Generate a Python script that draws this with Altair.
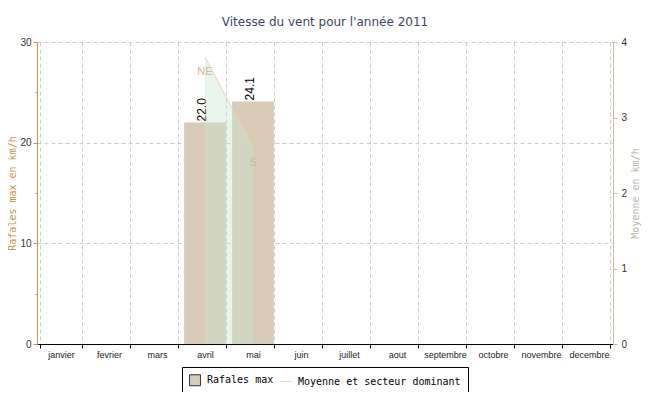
import altair as alt
import pandas as pd

months = ["janvier", "fevrier", "mars", "avril", "mai", "juin", "juillet",
          "aout", "septembre", "octobre", "novembre", "decembre"]
rafales_max = [None, None, None, 22.0, 24.1, None, None, None, None, None, None, None]
moyenne = [None, None, None, 3.8, 2.6, None, None, None, None, None, None, None]
secteur = [None, None, None, "NE", "S", None, None, None, None, None, None, None]
series = ["Rafales max", "Moyenne et secteur dominant"]
left_ticks = [0, 2.5, 5, 7.5, 10, 12.5, 15, 17.5, 20, 22.5, 25, 27.5, 30]
right_ticks = [0, 0.25, 0.5, 0.75, 1, 1.25, 1.5, 1.75, 2, 2.25, 2.5, 2.75, 3, 3.25, 3.5, 3.75, 4]

df = pd.DataFrame({"mois": months, "rafales": rafales_max, "moyenne": moyenne, "secteur": secteur})
df["label"] = [f"{v:.1f}" if v is not None else None for v in rafales_max]

TAN = "#c8964b"
RGREY = "#c8bfa5"
MONO = "DejaVu Sans Mono"
SANS = "Liberation Sans"

x_enc = alt.X(
    "mois:N", sort=months,
    scale=alt.Scale(domain=months, paddingInner=0.13, paddingOuter=0.065),
    axis=alt.Axis(title=None, tickBand="extent", labelAngle=0, grid=True,
                  gridDash=[4, 3], gridColor="#cccccc", domainColor="black",
                  tickColor="black", tickSize=4, labelPadding=2,
                  labelFont=SANS, labelFontSize=9, labelColor="#222222"),
)

base = alt.Chart(df)

bars = base.transform_filter("datum.rafales != null").mark_bar(color="#d8cbb8").encode(
    x=x_enc,
    y=alt.Y("rafales:Q", scale=alt.Scale(domain=[0, 30], nice=False),
            axis=alt.Axis(title="Rafales max en km/h", titleColor=TAN, titleFont=MONO,
                          titleFontSize=10, titleFontWeight="normal", titlePadding=2,
                          domainColor=TAN, tickColor=TAN, values=left_ticks, format="d",
                          labelExpr="datum.value % 10 == 0 ? datum.label : ''",
                          tickSize={"condition": {"test": "datum.value % 10 == 0", "value": 4}, "value": 2},
                          gridOpacity={"condition": {"test": "datum.value % 10 == 0", "value": 1}, "value": 0},
                          gridDash=[4, 3], gridColor="#cccccc",
                          labelFont=SANS, labelFontSize=10, labelColor="#333333", labelPadding=2)),
)

valtext = base.transform_filter("datum.rafales != null").mark_text(
    angle=270, align="left", baseline="middle", dx=1, dy=-3,
    font=SANS, fontSize=12, color="black").encode(
    x=x_enc,
    y=alt.Y("rafales:Q", scale=alt.Scale(domain=[0, 30], nice=False)),
    text="label:N",
)

area = base.transform_filter("datum.moyenne != null").mark_area(
    color="#c9e3cf", opacity=0.4,
    line={"color": "#ead6b3", "strokeWidth": 1}).encode(
    x=x_enc,
    y=alt.Y("moyenne:Q", scale=alt.Scale(domain=[0, 4], nice=False),
            axis=alt.Axis(title="Moyenne en km/h", titleColor="#bdb6a6", titleFont=MONO,
                          titleFontSize=10, titleFontWeight="normal", titlePadding=4,
                          titleAngle=270, titleBaseline="top",
                          domainColor=RGREY, tickColor=RGREY, values=right_ticks, format="d",
                          labelExpr="datum.value % 1 == 0 ? datum.label : ''",
                          tickSize={"condition": {"test": "datum.value % 1 == 0", "value": 4}, "value": 2},
                          grid=False, labelFont=SANS, labelFontSize=10,
                          labelColor="#333333", labelPadding=4)),
)

sectext = base.transform_filter("datum.moyenne != null").mark_text(
    dy=15, font=SANS, fontSize=11, color="#cdb994").encode(
    x=x_enc,
    y=alt.Y("moyenne:Q", scale=alt.Scale(domain=[0, 4], nice=False)),
    text="secteur:N",
)

leg = dict(title=None, orient="none", legendX=145, legendY=325, direction="horizontal",
           strokeColor="black", fillColor="white", padding=7, cornerRadius=0,
           labelFont=MONO, labelFontSize=10, labelColor="black", symbolSize=120,
           labelLimit=400, symbolStrokeWidth=1, columnPadding=4, labelOffset=6)

legend_layer = alt.Chart(pd.DataFrame({"serie": series})).transform_filter("false").mark_point(
    filled=True, opacity=1).encode(
    color=alt.Color("serie:N", scale=alt.Scale(domain=series, range=["#d8cbb8", "#ead6b3"]),
                    legend=alt.Legend(**leg)),
    shape=alt.Shape("serie:N", scale=alt.Scale(domain=series, range=["square", "stroke"]),
                    legend=alt.Legend(**leg)),
    stroke=alt.Stroke("serie:N", scale=alt.Scale(domain=series, range=["#333333", "#ead6b3"]),
                      legend=alt.Legend(**leg)),
)

chart = alt.layer(
    alt.layer(bars, valtext),
    alt.layer(area, sectext),
    legend_layer,
).resolve_scale(y="independent").properties(
    width=576, height=302,
    title=alt.TitleParams("Vitesse du vent pour l'année 2011", font="DejaVu Sans",
                          fontSize=12, fontWeight="normal", color="#3a4663", offset=8),
    autosize=alt.AutoSizeParams(type="none"),
    padding={"left": 29, "top": 34, "right": 29, "bottom": 48},
).configure_view(stroke=None)

chart.save("out.html", embed_options={"renderer": "svg", "actions": False})
